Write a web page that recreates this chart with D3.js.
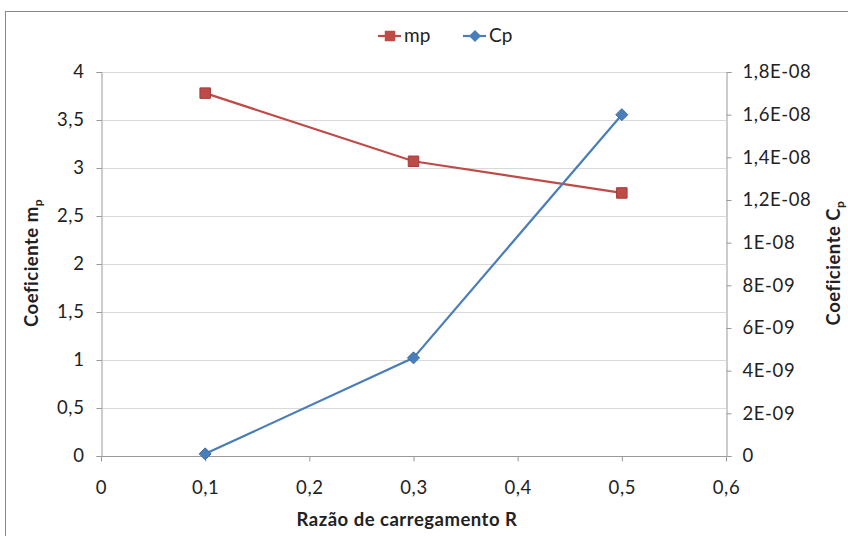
<!DOCTYPE html>
<html><head><meta charset="utf-8">
<script src="https://cdn.jsdelivr.net/npm/d3@7"></script>
<style>body{margin:0;background:#fff;} text{font-family:Lato,"Open Sans",sans-serif;fill:#222;}</style>
</head><body>
<svg id="c" width="848" height="536"></svg>
<script>
const ratioR = [0.1, 0.3, 0.5];
const mpValues = [3.78, 3.07, 2.74];
const cpValues = [1.0e-10, 4.6e-9, 1.6e-8];
const xTicks = [0, 0.1, 0.2, 0.3, 0.4, 0.5, 0.6];
const leftTicks = [0, 0.5, 1, 1.5, 2, 2.5, 3, 3.5, 4];
const rightTicks = [0, 2e-9, 4e-9, 6e-9, 8e-9, 1e-8, 1.2e-8, 1.4e-8, 1.6e-8, 1.8e-8];
const rightLabels = ["0","2E-09","4E-09","6E-09","8E-09","1E-08","1,2E-08","1,4E-08","1,6E-08","1,8E-08"];
const seriesNames = ["mp", "Cp"];

const svg = d3.select("#c");
const W = 848, H = 536;
const L = 101, R = 726, T = 72, B = 456;
const red = "#BE4B48", blue = "#4A7EBB";
const FF = "Lato,'Open Sans',sans-serif";

svg.append("rect").attr("x",5.5).attr("y",11.5).attr("width",W).attr("height",H)
  .attr("fill","none").attr("stroke","#888").attr("stroke-width",1);

const x = d3.scaleLinear().domain([0,0.6]).range([L,R]);
const yL = d3.scaleLinear().domain([0,4]).range([B,T]);
const yR = d3.scaleLinear().domain([0,1.8e-8]).range([B,T]);
const fmt = v => String(v).replace(".", ",");

// gridlines
svg.append("g").selectAll("line").data(leftTicks.slice(1)).join("line")
  .attr("x1",L).attr("x2",R).attr("y1",d=>Math.round(yL(d))+0.5).attr("y2",d=>Math.round(yL(d))+0.5)
  .attr("stroke","#d9d9d9").attr("stroke-width",1);

// axes
const gl = svg.append("g").attr("transform",`translate(${L+0.5},0)`)
  .call(d3.axisLeft(yL).tickValues(leftTicks).tickFormat(fmt).tickSize(5).tickPadding(12));
const gr = svg.append("g").attr("transform",`translate(${R+0.5},0)`)
  .call(d3.axisRight(yR).tickValues(rightTicks).tickFormat((d,i)=>rightLabels[i]).tickSize(5).tickPadding(11));
const gb = svg.append("g").attr("transform",`translate(0,${B+0.5})`)
  .call(d3.axisBottom(x).tickValues(xTicks).tickFormat(fmt).tickSize(5).tickPadding(19));
[gl,gr,gb].forEach(g=>{
  g.selectAll(".domain").attr("stroke","#9a9a9a");
  g.selectAll(".tick line").attr("stroke","#9a9a9a");
  g.selectAll("text").style("font-size","18.5px").style("letter-spacing","0.6px").attr("fill","#222").style("font-family",FF);
});
gb.select(".domain").remove();
svg.append("line").attr("x1",L).attr("x2",R).attr("y1",B+0.5).attr("y2",B+0.5).attr("stroke","#9a9a9a");

// lines
const lineL = d3.line().x((d,i)=>x(ratioR[i])).y(d=>yL(d));
const lineR = d3.line().x((d,i)=>x(ratioR[i])).y(d=>yR(d));
svg.append("path").attr("d",lineL(mpValues)).attr("fill","none").attr("stroke",red).attr("stroke-width",2.2);
svg.append("path").attr("d",lineR(cpValues)).attr("fill","none").attr("stroke",blue).attr("stroke-width",2.2);

const sq = d3.symbol().type(d3.symbolSquare).size(110);
const dmPath = "M0,-6L6,0L0,6L-6,0Z";
svg.append("g").selectAll("path").data(mpValues).join("path")
  .attr("d",sq).attr("transform",(d,i)=>`translate(${x(ratioR[i])},${yL(d)})`)
  .attr("fill",red).attr("stroke","#a8383a").attr("stroke-width",1);
svg.append("g").selectAll("path").data(cpValues).join("path")
  .attr("d",dmPath).attr("transform",(d,i)=>`translate(${x(ratioR[i])},${yR(d)})`)
  .attr("fill",blue).attr("stroke","#3f69a0").attr("stroke-width",1);

// legend
const lg = svg.append("g");
lg.append("line").attr("x1",378).attr("x2",401).attr("y1",36).attr("y2",36).attr("stroke",red).attr("stroke-width",2.2);
lg.append("path").attr("d",sq).attr("transform","translate(390,36)").attr("fill",red);
lg.append("text").attr("x",404).attr("y",42).style("font-size","19px").text(seriesNames[0]);
lg.append("line").attr("x1",463).attr("x2",486).attr("y1",36).attr("y2",36).attr("stroke",blue).attr("stroke-width",2.2);
lg.append("path").attr("d",dmPath).attr("transform","translate(475,36)").attr("fill",blue);
lg.append("text").attr("x",489).attr("y",42).style("font-size","19px").text(seriesNames[1]);

// axis titles
const tl = svg.append("text").attr("transform","translate(38,263) rotate(-90)").attr("text-anchor","middle")
  .style("font-size","18.5px").style("font-weight","bold").style("letter-spacing","0.5px");
tl.append("tspan").text("Coeficiente m");
tl.append("tspan").attr("dy",4).style("font-size","12px").text("p");
const tr = svg.append("text").attr("transform","translate(840,263) rotate(-90)").attr("text-anchor","middle")
  .style("font-size","18.5px").style("font-weight","bold").style("letter-spacing","0.5px");
tr.append("tspan").text("Coeficiente C");
tr.append("tspan").attr("dy",4).style("font-size","12px").text("p");
svg.append("text").attr("x",407).attr("y",526).attr("text-anchor","middle")
  .style("font-size","18.5px").style("font-weight","bold").style("letter-spacing","0.5px").text("Razão de carregamento R");
</script>
</body></html>
